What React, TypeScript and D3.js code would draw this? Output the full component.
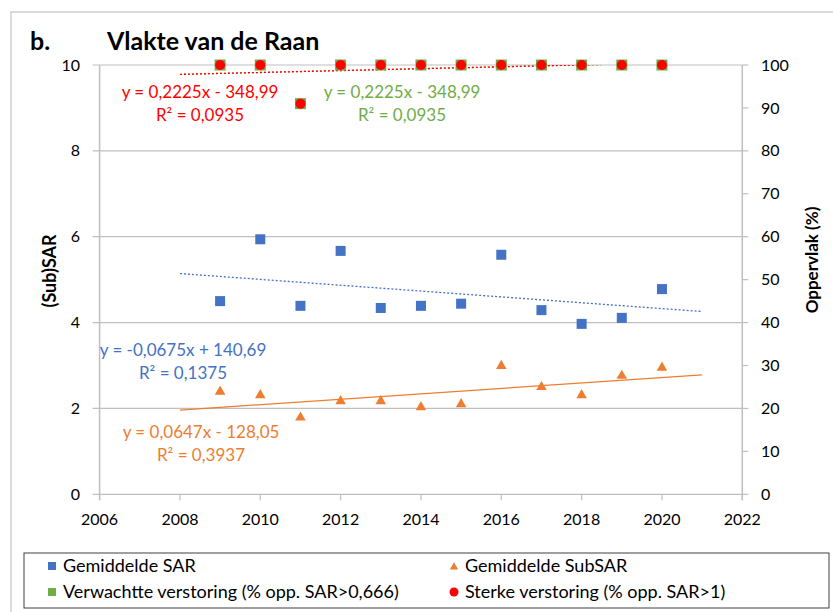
import * as d3 from 'd3';
import { useEffect, useRef } from 'react';

const years = [2009, 2010, 2011, 2012, 2013, 2014, 2015, 2016, 2017, 2018, 2019, 2020];
const sarValues = [4.5, 5.94, 4.39, 5.67, 4.34, 4.39, 4.44, 5.58, 4.29, 3.97, 4.11, 4.78];
const subSarValues = [2.39, 2.31, 1.79, 2.17, 2.17, 2.03, 2.1, 2.99, 2.5, 2.31, 2.76, 2.95];
const verwachtPct = [100, 100, 91, 100, 100, 100, 100, 100, 100, 100, 100, 100];
const sterkPct = [100, 100, 91, 100, 100, 100, 100, 100, 100, 100, 100, 100];
const xTicks = [2006, 2008, 2010, 2012, 2014, 2016, 2018, 2020, 2022];
const leftTicks = [0, 2, 4, 6, 8, 10];
const rightTicks = [0, 10, 20, 30, 40, 50, 60, 70, 80, 90, 100];
const legendLabels = [
  'Gemiddelde SAR',
  'Gemiddelde SubSAR',
  'Verwachtte verstoring (% opp. SAR>0,666)',
  'Sterke verstoring (% opp. SAR>1)',
];
const equations = {
  sterk: ['y = 0,2225x - 348,99', 'R² = 0,0935'],
  verwacht: ['y = 0,2225x - 348,99', 'R² = 0,0935'],
  sar: ['y = -0,0675x + 140,69', 'R² = 0,1375'],
  subSar: ['y = 0,0647x - 128,05', 'R² = 0,3937'],
};

const BLUE = '#4472C4';
const ORANGE = '#ED7D31';
const GREEN = '#70AD47';
const RED = '#FF0000';
const FONT = 'Lato, "Open Sans", sans-serif';

// least squares fit, same as the excel trendline
const fit = (xs: number[], ys: number[]) => {
  const mx = d3.mean(xs) ?? 0;
  const my = d3.mean(ys) ?? 0;
  let num = 0;
  let den = 0;
  xs.forEach((x, i) => {
    num += (x - mx) * (ys[i] - my);
    den += (x - mx) * (x - mx);
  });
  const slope = num / den;
  return (x: number) => my + slope * (x - mx);
};

export default function App() {
  const ref = useRef<SVGSVGElement>(null);

  useEffect(() => {
    const svg = d3.select(ref.current);
    svg.selectAll('*').remove();

    const left = 99.6;
    const right = 742.3;
    const top = 65;
    const bottom = 494.3;

    const x = d3.scaleLinear().domain([2006, 2022]).range([left, right]);
    const y = d3.scaleLinear().domain([0, 10]).range([bottom, top]);
    const y2 = d3.scaleLinear().domain([0, 100]).range([bottom, top]);

    // outer chart border
    svg
      .append('rect')
      .attr('x', 11)
      .attr('y', 12)
      .attr('width', 840)
      .attr('height', 620)
      .attr('fill', 'white')
      .attr('stroke', '#d0d0d0')
      .attr('stroke-width', 1.5);

    // gridlines
    svg
      .append('g')
      .selectAll('line')
      .data(leftTicks)
      .join('line')
      .attr('x1', left - 7)
      .attr('x2', right)
      .attr('y1', (d) => y(d))
      .attr('y2', (d) => y(d))
      .attr('stroke', '#bfbfbf')
      .attr('stroke-width', 1.2);

    // axis lines
    const axisColor = '#bfbfbf';
    svg.append('line').attr('x1', left).attr('x2', left).attr('y1', top).attr('y2', bottom + 6).attr('stroke', axisColor).attr('stroke-width', 1.5);
    svg.append('line').attr('x1', right).attr('x2', right).attr('y1', top).attr('y2', bottom + 6).attr('stroke', axisColor).attr('stroke-width', 1.5);

    // ticks
    svg
      .append('g')
      .selectAll('line')
      .data(xTicks)
      .join('line')
      .attr('x1', (d) => x(d))
      .attr('x2', (d) => x(d))
      .attr('y1', bottom)
      .attr('y2', bottom + 6)
      .attr('stroke', axisColor)
      .attr('stroke-width', 1.2);

    svg
      .append('g')
      .selectAll('line')
      .data(rightTicks)
      .join('line')
      .attr('x1', right)
      .attr('x2', right + 6)
      .attr('y1', (d) => y2(d))
      .attr('y2', (d) => y2(d))
      .attr('stroke', axisColor)
      .attr('stroke-width', 1.2);

    // tick labels
    svg
      .append('g')
      .selectAll('text')
      .data(xTicks)
      .join('text')
      .attr('x', (d) => x(d))
      .attr('y', bottom + 31)
      .attr('text-anchor', 'middle')
      .style('font', `16px ${FONT}`)
      .text((d) => d);

    svg
      .append('g')
      .selectAll('text')
      .data(leftTicks)
      .join('text')
      .attr('x', 80)
      .attr('y', (d) => y(d))
      .attr('dy', '0.35em')
      .attr('text-anchor', 'end')
      .style('font', `16px ${FONT}`)
      .text((d) => d);

    svg
      .append('g')
      .selectAll('text')
      .data(rightTicks)
      .join('text')
      .attr('x', 761)
      .attr('y', (d) => y2(d))
      .attr('dy', '0.35em')
      .style('font', `16px ${FONT}`)
      .text((d) => d);

    // axis titles
    svg
      .append('text')
      .attr('transform', 'translate(56,271) rotate(-90)')
      .attr('text-anchor', 'middle')
      .style('font', `bold 18px ${FONT}`)
      .text('(Sub)SAR');
    svg
      .append('text')
      .attr('transform', 'translate(818,260) rotate(-90)')
      .attr('text-anchor', 'middle')
      .style('font', `bold 17px ${FONT}`)
      .text('Oppervlak (%)');

    // title
    svg.append('text').attr('x', 30).attr('y', 50).style('font', `bold 25px ${FONT}`).text('b.');
    svg.append('text').attr('x', 107).attr('y', 50).style('font', `bold 25px ${FONT}`).text('Vlakte van de Raan');

    // trendlines, clipped to the plot area
    svg
      .append('clipPath')
      .attr('id', 'plotclip')
      .append('rect')
      .attr('x', left)
      .attr('y', top)
      .attr('width', right - left)
      .attr('height', bottom - top);

    const trend = (ys: number[], scale: d3.ScaleLinear<number, number>, color: string, dash: string | null, width: number) => {
      const f = fit(years, ys);
      const line = d3
        .line<number>()
        .x((d) => x(d))
        .y((d) => scale(f(d)));
      svg
        .append('path')
        .datum([2008, 2021])
        .attr('clip-path', 'url(#plotclip)')
        .attr('fill', 'none')
        .attr('stroke', color)
        .attr('stroke-width', width)
        .attr('stroke-dasharray', dash)
        .attr('d', line);
    };

    trend(sarValues, y, BLUE, '2,2', 1.3);
    trend(subSarValues, y, ORANGE, null, 1.3);
    trend(verwachtPct, y2, GREEN, '2,2', 1.3);
    trend(sterkPct, y2, RED, '2,2', 1.3);

    // markers
    svg
      .append('g')
      .selectAll('rect')
      .data(years)
      .join('rect')
      .attr('x', (d) => x(d) - 5)
      .attr('y', (_d, i) => y(sarValues[i]) - 5)
      .attr('width', 10)
      .attr('height', 10)
      .attr('fill', BLUE);

    const tri = d3.symbol(d3.symbolTriangle, 48);
    svg
      .append('g')
      .selectAll('path')
      .data(years)
      .join('path')
      .attr('transform', (d, i) => `translate(${x(d)},${y(subSarValues[i])})`)
      .attr('d', tri)
      .attr('fill', ORANGE);

    svg
      .append('g')
      .selectAll('rect')
      .data(years)
      .join('rect')
      .attr('x', (d) => x(d) - 5.5)
      .attr('y', (_d, i) => y2(verwachtPct[i]) - 5.5)
      .attr('width', 11)
      .attr('height', 11)
      .attr('fill', GREEN);

    svg
      .append('g')
      .selectAll('circle')
      .data(years)
      .join('circle')
      .attr('cx', (d) => x(d))
      .attr('cy', (_d, i) => y2(sterkPct[i]))
      .attr('r', 5)
      .attr('fill', RED);

    // equation labels
    const eq = (lines: string[], cx: number, cy: number, color: string) => {
      lines.forEach((t, i) => {
        svg
          .append('text')
          .attr('x', cx)
          .attr('y', cy + i * 23)
          .attr('dy', '0.35em')
          .attr('text-anchor', 'middle')
          .attr('fill', color)
          .style('font', `17px ${FONT}`)
          .text(t);
      });
    };
    eq(equations.sterk, 200, 92, RED);
    eq(equations.verwacht, 402, 92, GREEN);
    eq(equations.sar, 183, 350, BLUE);
    eq(equations.subSar, 201, 432, ORANGE);

    // legend
    svg
      .append('rect')
      .attr('x', 24)
      .attr('y', 553)
      .attr('width', 805)
      .attr('height', 55)
      .attr('fill', 'white')
      .attr('stroke', '#404040')
      .attr('stroke-width', 1);

    const legendPos = [
      [52, 566],
      [454, 566],
      [52, 592],
      [454, 592],
    ];
    const g = svg.append('g');
    legendLabels.forEach((label, i) => {
      const [lx, ly] = legendPos[i];
      if (i === 0 || i === 2) {
        g.append('rect')
          .attr('x', lx - 4)
          .attr('y', ly - 4)
          .attr('width', 8)
          .attr('height', 8)
          .attr('fill', i === 0 ? BLUE : GREEN);
      } else if (i === 1) {
        g.append('path').attr('transform', `translate(${lx},${ly + 1})`).attr('d', d3.symbol(d3.symbolTriangle, 30)).attr('fill', ORANGE);
      } else {
        g.append('circle').attr('cx', lx).attr('cy', ly).attr('r', 4.5).attr('fill', RED);
      }
      g.append('text')
        .attr('x', lx + 11)
        .attr('y', ly)
        .attr('dy', '0.35em')
        .style('font', `18px ${FONT}`)
        .text(label);
    });
  }, []);

  return (
    <svg
      ref={ref}
      width={833}
      height={612}
      style={{ position: 'absolute', left: 0, top: 0, background: 'white' }}
    />
  );
}
